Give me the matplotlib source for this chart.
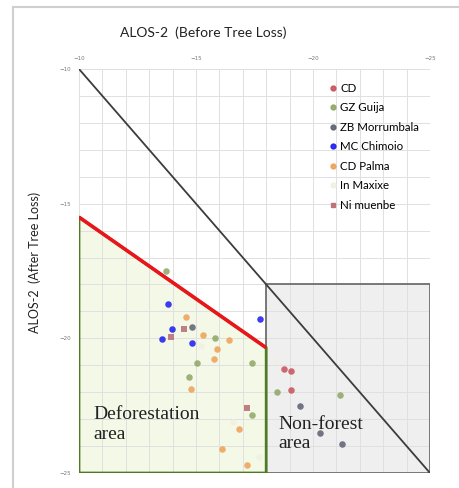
import numpy as np
import matplotlib
matplotlib.use('Agg')
import matplotlib.pyplot as plt
from matplotlib.patches import Polygon, Rectangle
from matplotlib.lines import Line2D

# values (before, after)
cd_x = [-18.76, -19.06, -19.05]
cd_y = [-21.14, -21.23, -21.91]
gz_x = [-13.72, -15.82, -15.06, -17.38, -14.70, -17.38, -18.47, -21.15]
gz_y = [-17.49, -20.00, -20.92, -20.92, -21.44, -22.83, -21.99, -22.09]
zb_x = [-14.82, -19.44, -20.30, -21.22]
zb_y = [-19.59, -22.52, -23.51, -23.91]
mc_x = [-13.79, -13.99, -13.55, -14.83, -17.74]
mc_y = [-18.71, -19.64, -20.03, -20.17, -19.30]
palma_x = [-14.56, -15.31, -16.42, -15.88, -15.78, -14.79, -16.85, -16.09, -17.19]
palma_y = [-19.19, -19.88, -20.06, -20.39, -20.76, -21.87, -23.35, -24.12, -24.70]
maxixe_x = [-15.20, -18.40, -16.60, -17.70]
maxixe_y = [-20.30, -20.85, -23.10, -24.40]
ni_x = [-14.49, -13.93, -17.19]
ni_y = [-19.67, -19.96, -22.58]

series = [
    ('CD', cd_x, cd_y, '#c8505a', 'o'),
    ('GZ Guija', gz_x, gz_y, '#8fa564', 'o'),
    ('ZB Morrumbala', zb_x, zb_y, '#5a5f70', 'o'),
    ('MC Chimoio', mc_x, mc_y, '#1a1aee', 'o'),
    ('CD Palma', palma_x, palma_y, '#eea055', 'o'),
    ('In Maxixe', maxixe_x, maxixe_y, '#f2efe2', 'o'),
    ('Ni muenbe', ni_x, ni_y, '#b86a72', 's'),
]

defor_x = [-10, -18, -18, -10]
defor_y = [-15.5, -20.35, -25, -25]
nonfor_x = [-18, -25]
nonfor_y = [-18, -25]

fig = plt.figure(figsize=(4.6, 4.88), dpi=100)
ax = fig.add_axes([79 / 460, 1 - 473 / 488, 351 / 460, 404 / 488])

ax.set_xlim(-10, -25)
ax.set_ylim(-25, -10)
ax.set_xticks([-10, -15, -20, -25])
ax.set_yticks([-10, -15, -20, -25])
ax.set_xticks(np.arange(-25, -9), minor=True)
ax.set_yticks(np.arange(-25, -9), minor=True)
ax.grid(True, which='both', color='#e0e0e0', linewidth=0.7, zorder=1.5)
ax.xaxis.tick_top()
ax.tick_params(axis='both', which='both', length=0, labelsize=4, colors='#777777', pad=6)
for s in ax.spines.values():
    s.set_visible(False)
for gl in ax.get_xgridlines() + ax.get_ygridlines():
    gl.set_zorder(1.5)

# non-forest box
ax.add_patch(Rectangle((nonfor_x[0], nonfor_y[1]), nonfor_x[1] - nonfor_x[0], nonfor_y[0] - nonfor_y[1],
                       facecolor='#ececec', edgecolor='none', alpha=0.8, zorder=1))
ax.add_patch(Rectangle((nonfor_x[0], nonfor_y[1]), nonfor_x[1] - nonfor_x[0], nonfor_y[0] - nonfor_y[1],
                       fill=False, edgecolor='#6e6e6e', linewidth=1.3, zorder=2))
# deforestation polygon
ax.add_patch(Polygon(list(zip(defor_x, defor_y)), closed=True, facecolor='#f1f8e2',
                     edgecolor='none', alpha=0.85, zorder=1))
ax.add_patch(Polygon(list(zip(defor_x, defor_y)), closed=True, fill=False,
                     edgecolor='#4e7a24', linewidth=2, zorder=2))
ax.plot(defor_x[:2], defor_y[:2], color='#e8161a', linewidth=2.6, zorder=2, solid_capstyle='butt')

# 1:1 line
ax.plot([-10, -25], [-10, -25], color='#3c3c3c', linewidth=1.3, zorder=2)

for name, xs, ys, c, m in series:
    ax.scatter(xs, ys, s=22, color=c, marker=m, alpha=0.85, linewidths=0, zorder=3, label=name)

ax.text(-10.6, -23.2, 'Deforestation\narea', family='Liberation Serif', fontsize=14,
        color='#222222', ha='left', va='center', linespacing=1.3, zorder=4)
ax.text(-18.5, -23.55, 'Non-forest\narea', family='Liberation Serif', fontsize=14,
        color='#222222', ha='left', va='center', linespacing=1.2, zorder=4)

handles = [Line2D([], [], linestyle='none', marker=m, color=c, markersize=3.5, alpha=0.9)
           for name, xs, ys, c, m in series]
ax.legend(handles, [s[0] for s in series], loc='upper left', frameon=False,
          prop={'family': 'Lato', 'size': 8.3},
          handletextpad=0.1, handlelength=1.0, labelspacing=0.74, borderaxespad=0)
leg = ax.get_legend()
leg.set_bbox_to_anchor((323 / 460, 1 - 78 / 488), transform=fig.transFigure)

fig.text(203 / 460, 1 - 33 / 488, 'ALOS-2  (Before Tree Loss)', family='Lato', fontsize=10,
         ha='center', va='center', color='#222222')
fig.text(35 / 460, 1 - 262 / 488, 'ALOS-2  (After Tree Loss)', family='Lato', fontsize=9,
         ha='center', va='center', rotation=90, color='#222222')

# outer frame
fig.add_artist(Line2D([13 / 460, 1], [1 - 7 / 488, 1 - 7 / 488], color='#cfcfcf', linewidth=1.5,
                      transform=fig.transFigure))
fig.add_artist(Line2D([13 / 460, 13 / 460], [0, 1 - 7 / 488], color='#cfcfcf', linewidth=1.5,
                      transform=fig.transFigure))

fig.savefig('out.png', dpi=100)
